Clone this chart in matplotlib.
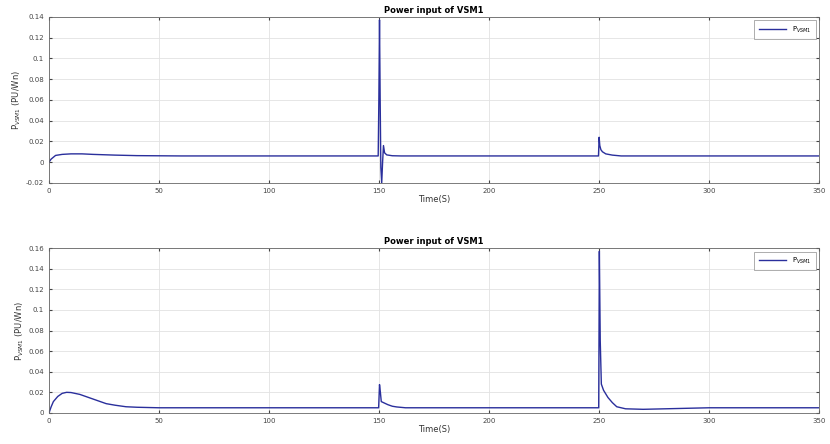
import matplotlib.pyplot as plt
import numpy as np

# values
t_top = [0, 1, 3, 6, 10, 15, 20, 30, 40, 60, 100, 149.6, 149.9, 150.2, 150.5, 150.8,
         151.2, 151.6, 152, 152.5, 153.5, 156, 160, 200, 249.7, 250, 250.3, 250.8,
         251.5, 253, 256, 260, 280, 350]
p_top = [0.0, 0.003, 0.0065, 0.0075, 0.008, 0.008, 0.0075, 0.0068, 0.0063, 0.006, 0.006,
         0.006, 0.06, 0.137, 0.06, -0.005, -0.02, 0.0, 0.016, 0.009, 0.007, 0.0062,
         0.006, 0.006, 0.006, 0.024, 0.016, 0.012, 0.01, 0.008, 0.0068, 0.006, 0.006, 0.006]

t_bot = [0, 1, 2, 4, 6, 8, 10, 14, 18, 22, 26, 30, 35, 40, 50, 100, 149.8, 150.2, 150.6,
         151, 152, 154, 156, 158, 162, 200, 249.8, 250.1, 250.5, 251, 252, 254, 256,
         258, 262, 270, 280, 300, 350]
p_bot = [0.0, 0.006, 0.011, 0.016, 0.019, 0.02, 0.0198, 0.018, 0.015, 0.012, 0.009, 0.0075,
         0.006, 0.0055, 0.005, 0.005, 0.005, 0.0275, 0.02, 0.011, 0.01, 0.008, 0.0065,
         0.0058, 0.005, 0.005, 0.005, 0.157, 0.07, 0.028, 0.022, 0.015, 0.01, 0.006,
         0.004, 0.0035, 0.004, 0.005, 0.005]

t_ticks = np.arange(0, 351, 50)
yt_top = np.arange(-0.02, 0.141, 0.02)
yt_bot = np.arange(0, 0.161, 0.02)

line_color = '#2a2f9c'

def fmt(v):
    return '%g' % round(v, 2)

def main():
    fig = plt.figure(figsize=(8.3, 4.44), dpi=100)
    ax1 = fig.add_axes([0.059, 0.588, 0.928, 0.374])
    ax2 = fig.add_axes([0.059, 0.070, 0.928, 0.371])

    panels = [(ax1, t_top, p_top, yt_top, (-0.02, 0.14)),
              (ax2, t_bot, p_bot, yt_bot, (0, 0.16))]
    for ax, t, p, yt, ylim in panels:
        ax.plot(t, p, color=line_color, lw=1.0, label='P$_{VSM1}$')
        ax.set_xlim(0, 350)
        ax.set_ylim(*ylim)
        ax.set_xticks(t_ticks)
        ax.set_yticks(yt)
        ax.set_yticklabels([fmt(v) for v in yt])
        ax.grid(True, color='#e2e2e2', lw=0.6)
        ax.tick_params(labelsize=5, length=2, direction='in', colors='#444444',
                       top=True, right=True)
        for s in ax.spines.values():
            s.set_color('#666666')
            s.set_linewidth(0.6)
        ax.set_title('Power input of VSM1', fontsize=6, fontweight='bold', pad=3)
        ax.set_xlabel('Time(S)', fontsize=6, labelpad=1, color='#333333')
        ax.set_ylabel('P$_{VSM1}$ (PU/Wn)', fontsize=6, labelpad=2, color='#333333')
        leg = ax.legend(loc='upper right', fontsize=5, handlelength=4,
                        fancybox=False, borderpad=0.6)
        leg.get_frame().set_edgecolor('#888888')
        leg.get_frame().set_linewidth(0.6)

    fig.savefig('out.png', dpi=100)

if __name__ == "__main__":
    main()
